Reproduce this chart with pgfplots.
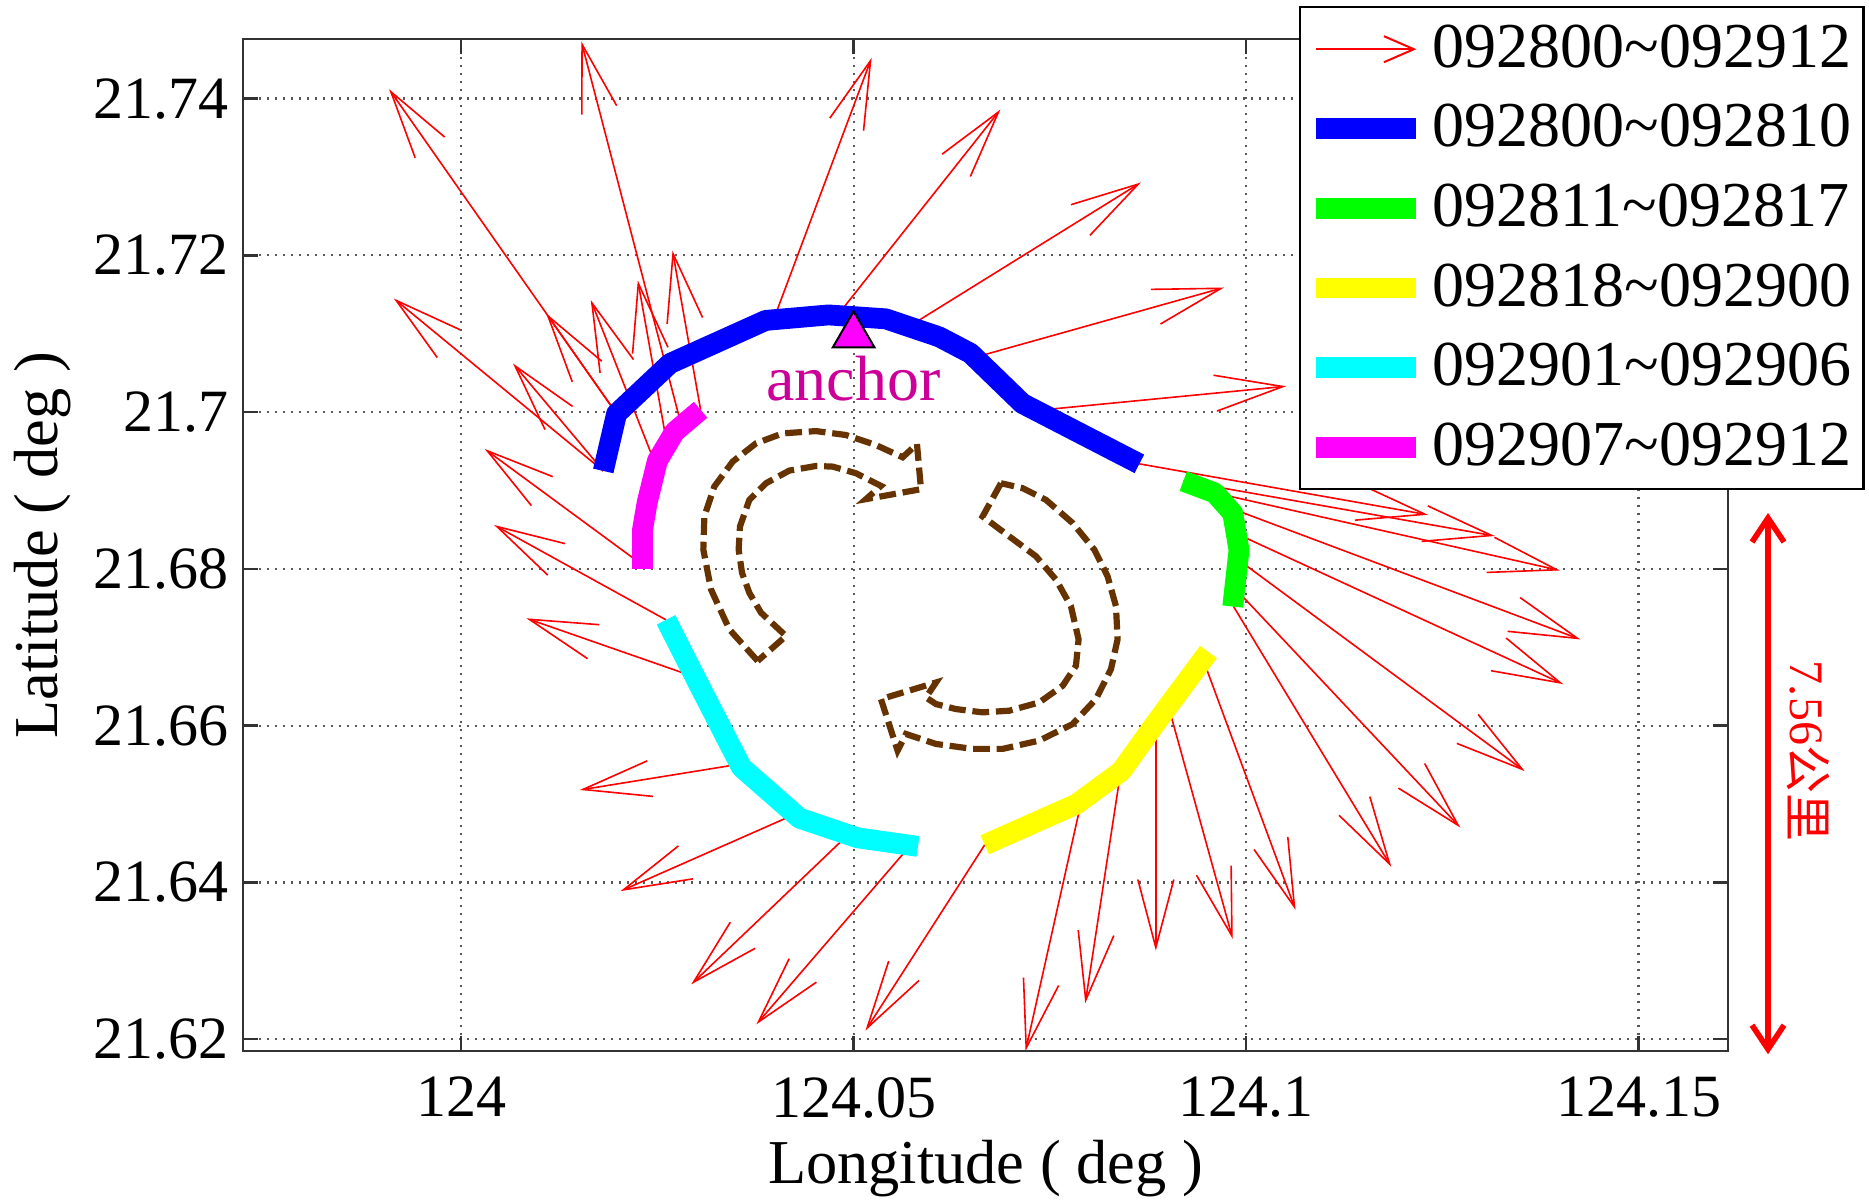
\documentclass[border=0pt]{standalone}
\usepackage{pgfplots}
\pgfplotsset{compat=1.18}
\usepackage{pgfplotstable}
\usetikzlibrary{arrows.meta}
\usepackage{fontspec}
\setmainfont{Liberation Serif}
\newfontfamily\cjk{Noto Sans CJK SC}
\definecolor{brn}{RGB}{102,51,0}
\definecolor{anch}{RGB}{204,0,153}
\definecolor{mblue}{RGB}{0,0,255}
\definecolor{mgreen}{RGB}{0,255,0}
\definecolor{myellow}{RGB}{255,255,0}
\definecolor{mcyan}{RGB}{0,255,255}
\definecolor{mmagenta}{RGB}{255,0,255}
\definecolor{mred}{RGB}{255,0,0}

% displacement vectors: base (x,y) and component (u,v), deg
\pgfplotstableread{
x y u v
124.0198 21.6998 -0.0290 0.0414
124.0280 21.6985 -0.0127 0.0488
124.0398 21.7118 0.0125 0.0334
124.0479 21.7123 0.0208 0.0263
124.0570 21.7109 0.0296 0.0184
124.0655 21.7070 0.0317 0.0089
124.0732 21.7002 0.0319 0.0031
124.0864 21.6934 0.0368 -0.0065
124.0920 21.6912 0.0397 -0.0070
124.0960 21.6897 0.0440 -0.0099
124.0987 21.6875 0.0439 -0.0165
124.0992 21.6843 0.0412 -0.0190
124.0991 21.6811 0.0364 -0.0269
124.0987 21.6774 0.0286 -0.0304
124.0984 21.6752 0.0201 -0.0332
124.0945 21.6685 0.0118 -0.0320
124.0901 21.6625 0.0082 -0.0297
124.0885 21.6598 0.0000 -0.0285
124.0840 21.6540 -0.0045 -0.0294
124.0790 21.6503 -0.0071 -0.0318
124.0667 21.6448 -0.0152 -0.0237
124.0572 21.6447 -0.0196 -0.0228
124.0493 21.6461 -0.0200 -0.0191
124.0425 21.6487 -0.0222 -0.0098
124.0355 21.6551 -0.0204 -0.0033
124.0298 21.6662 -0.0215 0.0075
124.0261 21.6735 -0.0219 0.0121
124.0231 21.6805 -0.0201 0.0148
124.0181 21.6925 -0.0267 0.0220
124.0181 21.6925 -0.0115 0.0137
124.0198 21.6998 -0.0090 0.0128
124.0248 21.6932 -0.0083 0.0211
124.0262 21.6960 -0.0037 0.0208
124.0305 21.7003 -0.0036 0.0203
}\vectable

\begin{document}
\begin{tikzpicture}
\begin{axis}[
  scale only axis, width=371.25pt, height=253pt,
  at={(0pt,0pt)}, anchor=south west,
  xmin=123.9722, xmax=124.1614, ymin=21.6185, ymax=21.7476,
  xtick={124,124.05,124.1,124.15},
  xticklabels={124,124.05,124.1,124.15},
  ytick={21.62,21.64,21.66,21.68,21.70,21.72,21.74},
  yticklabels={21.62,21.64,21.66,21.68,21.7,21.72,21.74},
  scaled ticks=false,
  tick label style={font=\fontsize{15}{18}\selectfont},
  xticklabel style={yshift=-3pt},
  xlabel={Longitude ( deg )}, ylabel={Latitude ( deg )},
  label style={font=\fontsize{15.6}{18}\selectfont},
  xlabel style={at={(axis description cs:0.5,-0.1157)}, anchor=center},
  ylabel style={at={(axis description cs:-0.1347,0.5)}, anchor=center},
  grid=major,
  grid style={line width=0.55pt, black!65, dash pattern=on 0.55pt off 1.45pt},
  axis line style={line width=0.6pt, black!80},
  major tick length=3.75pt,
  tick style={line width=0.6pt, black!80},
  tick align=inside,
  legend cell align=left,
  legend image code/.code={\draw[#1] (0pt,0pt) -- (25pt,0pt);},
  legend style={at={(rel axis cs:0.711,1.0326)}, anchor=north west,
    draw=black, line width=0.6pt, fill=white,
    font=\fontsize{16}{19}\selectfont,
    inner xsep=1.5pt, inner ysep=3pt, row sep=4.9pt,
    nodes={inner xsep=1.5pt, inner ysep=0pt, text height=12pt, text depth=3pt}},
]
\addplot[mred, line width=0.4pt,
  quiver={u=\thisrow{u}, v=\thisrow{v}},
  -{Straight Barb[length=17pt,width=9pt]},
  legend image code/.code={\draw[mred,line width=0.5pt,-{Straight Barb[length=7.5pt,width=6.5pt]}] (0pt,0pt) -- (25pt,0pt);}]
  table[x=x,y=y] {\vectable};
\addlegendentry{092800\textasciitilde092912\hspace{3pt}}

\addplot[mblue, line width=5.2pt, line join=round] coordinates {
(124.0181,21.6925) (124.0198,21.6998) (124.0266,21.7062) (124.0388,21.7117)
(124.0468,21.7124) (124.0541,21.7119) (124.0609,21.7096) (124.0649,21.7075)
(124.0715,21.7011) (124.0864,21.6934)};
\addlegendentry{092800\textasciitilde092810\hspace{3pt}}

\addplot[mgreen, line width=5.2pt, line join=round] coordinates {
(124.0920,21.6912) (124.0960,21.6897) (124.0983,21.6871) (124.0991,21.6824)
(124.0983,21.6752)};
\addlegendentry{092811\textasciitilde092817\hspace{3pt}}

\addplot[myellow, line width=5.2pt, line join=round] coordinates {
(124.0952,21.6694) (124.0909,21.6636) (124.0881,21.6598) (124.0841,21.6542)
(124.0784,21.6500) (124.0667,21.6448)};
\addlegendentry{092818\textasciitilde092900\hspace{3pt}}

\addplot[mcyan, line width=5.2pt, line join=round] coordinates {
(124.0261,21.6735) (124.0300,21.6658) (124.0357,21.6547) (124.0431,21.6482)
(124.0505,21.6457) (124.0582,21.6446)};
\addlegendentry{092901\textasciitilde092906\hspace{3pt}}

\addplot[mmagenta, line width=5.2pt, line join=round] coordinates {
(124.0305,21.7003) (124.0272,21.6975) (124.0250,21.6938) (124.0237,21.6885)
(124.0231,21.6850) (124.0231,21.6800)};
\addlegendentry{092907\textasciitilde092912\hspace{3pt}}

% rotation sketches (dashed block arrows)
\addplot[brn, line width=1.55pt, dash pattern=on 4.2pt off 1.7pt, forget plot] coordinates {
(124.03777,21.66826) (124.03416,21.67229) (124.03183,21.67737) (124.03085,21.68246)
(124.03098,21.68669) (124.03225,21.69051) (124.03459,21.69369) (124.03756,21.69602)
(124.04096,21.69729) (124.04520,21.69758) (124.04902,21.69708) (124.05284,21.69580)
(124.05624,21.69424) (124.05807,21.69593) (124.05858,21.69017) (124.05157,21.68890)
(124.05348,21.69059) (124.05030,21.69220) (124.04733,21.69305) (124.04520,21.69313)
(124.04180,21.69254) (124.03883,21.69093) (124.03671,21.68881) (124.03552,21.68542)
(124.03535,21.68246) (124.03578,21.67949) (124.03671,21.67695) (124.03820,21.67441)
(124.04138,21.67144) (124.03777,21.66826)};
\addplot[brn, line width=1.55pt, dash pattern=on 4.2pt off 1.7pt, forget plot] coordinates {
(124.06877,21.69093) (124.06643,21.68669) (124.06983,21.68415) (124.07323,21.68161)
(124.07577,21.67864) (124.07768,21.67525) (124.07866,21.67102) (124.07832,21.66763)
(124.07663,21.66509) (124.07365,21.66297) (124.06983,21.66191) (124.06643,21.66170)
(124.06304,21.66212) (124.06049,21.66276) (124.05921,21.66360) (124.06049,21.66551)
(124.05348,21.66339) (124.05560,21.65682) (124.05667,21.65894) (124.06049,21.65767)
(124.06516,21.65704) (124.06898,21.65704) (124.07365,21.65810) (124.07790,21.66021)
(124.08087,21.66339) (124.08278,21.66720) (124.08363,21.67102) (124.08342,21.67525)
(124.08235,21.67907) (124.08066,21.68246) (124.07790,21.68585) (124.07450,21.68881)
(124.07153,21.69030) (124.06877,21.69093)};

\addplot[only marks, mark=triangle*, mark size=6pt,
  mark options={fill=mmagenta, draw=black, line width=0.5pt}, forget plot]
  coordinates {(124.05,21.7098)};
\node[text=anch, font=\fontsize{16}{19}\selectfont] at (axis cs:124.05,21.7043) {anchor};
\end{axis}
\draw[mred, line width=1.4pt, {Straight Barb[length=6pt,width=8pt]}-{Straight Barb[length=6pt,width=8pt]}]
  (381.25pt,134.5pt) -- (381.25pt,-0.8pt);
\node[text=mred, rotate=-90, font=\fontsize{12}{14}\selectfont] at (391.25pt,75pt) {7.56{\cjk 公里}};
\pgfresetboundingbox
\path[use as bounding box] (-60.75pt,-37pt) rectangle (406.5pt,262.75pt);
\end{tikzpicture}
\end{document}
